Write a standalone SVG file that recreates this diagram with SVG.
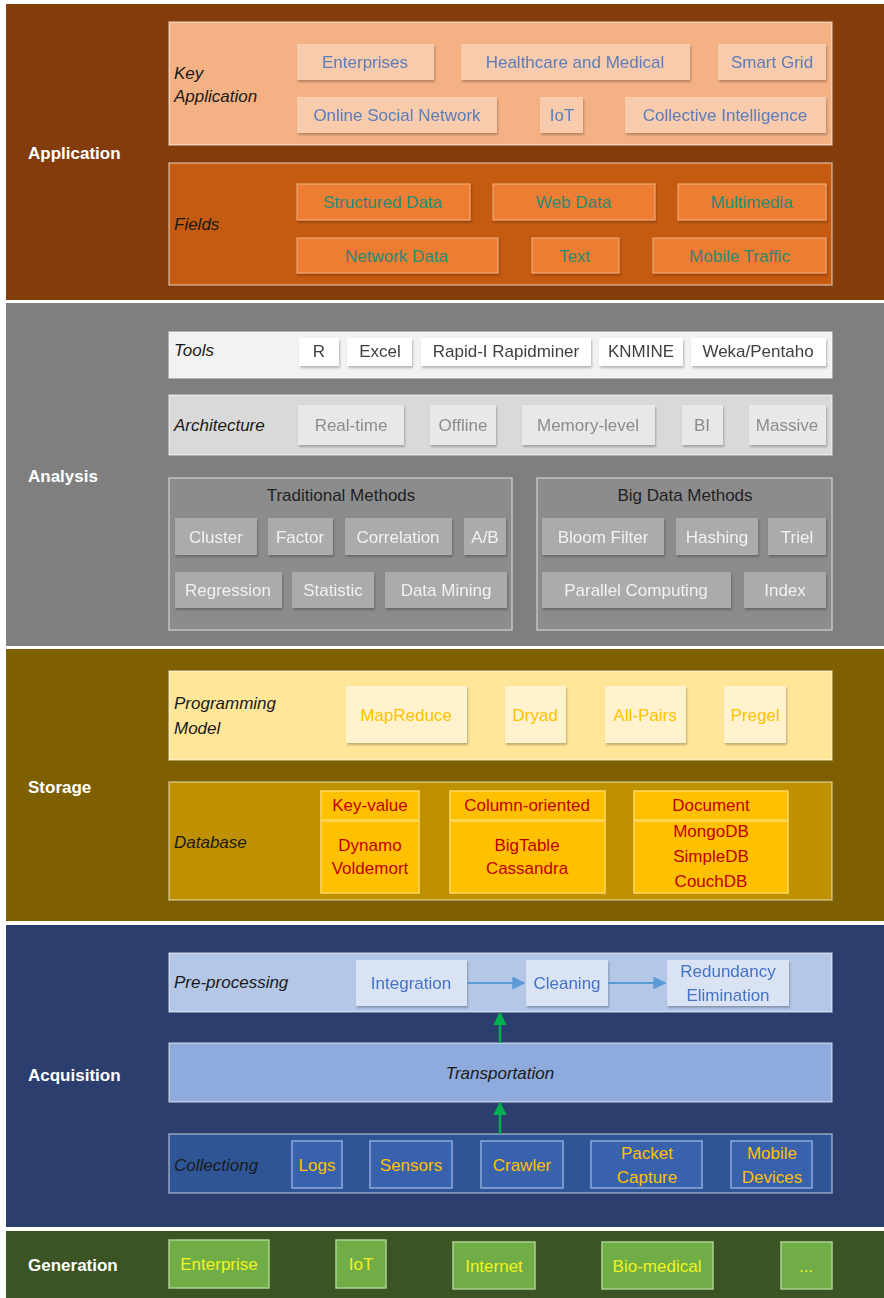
<svg xmlns="http://www.w3.org/2000/svg" width="884" height="1298" viewBox="0 0 884 1298">
<defs>
<filter id="sh" x="-10%" y="-10%" width="130%" height="140%">
<feDropShadow dx="1" dy="2" stdDeviation="1.2" flood-color="#000" flood-opacity="0.25"/>
</filter>
<marker id="ab" viewBox="0 0 10 10" refX="9" refY="5" markerWidth="6.5" markerHeight="6.5" orient="auto"><path d="M0,0 L10,5 L0,10 z" fill="#5B9BD5"/></marker>
<marker id="ag" viewBox="0 0 10 10" refX="9" refY="5" markerWidth="5.5" markerHeight="5.5" orient="auto"><path d="M0,0 L10,5 L0,10 z" fill="#00B050"/></marker>
</defs>
<style>
text{font-family:"Liberation Sans",Arial,sans-serif;font-size:17px;}
.lay{font-weight:bold;fill:#fff;font-size:17px;}
.lbl{font-style:italic;fill:#1a1a1a;font-size:17px;}
.c{text-anchor:middle;dominant-baseline:central;}
.box{stroke:rgba(255,255,255,0.5);stroke-width:1.5;}
.it{filter:url(#sh);}
.ka{fill:#F8CBAD;} .kat{fill:#5B7DB8;}
.fi{fill:#ED7D31;stroke:#F4B183;stroke-width:1;} .fit{fill:#218B74;}
.to{fill:#fff;} .tot{fill:#404040;}
.ar{fill:#E8E8E8;} .art{fill:#8C8C8C;}
.me{fill:#ABABAB;} .met{fill:#F2F2F2;}
.pm{fill:#FFF2CC;} .pmt{fill:#FFC000;}
.db{fill:#FFC000;stroke:#FFD966;stroke-width:1.5;} .dbt{fill:#C00000;}
.pp{fill:#DAE3F3;} .ppt{fill:#4472C4;}
.co{fill:#3862AC;stroke:#8FAADC;stroke-width:1.5;} .cot{fill:#FFC000;}
.ge{fill:#70AD47;stroke:#A9D18E;stroke-width:1.5;} .get{fill:#F2F21E;}
</style>

<g id="layer-application">
<rect x="6" y="4" width="878" height="296" fill="#843C0C"/>
<text class="lay" x="28" y="159">Application</text>
</g>
<g id="layer-analysis">
<rect x="6" y="303" width="878" height="343" fill="#7F7F7F"/>
<text class="lay" x="28" y="482">Analysis</text>
</g>
<g id="layer-storage">
<rect x="6" y="649" width="878" height="272" fill="#7F6000"/>
<text class="lay" x="28" y="793">Storage</text>
</g>
<g id="layer-acquisition">
<rect x="6" y="925" width="878" height="302" fill="#2C3E6E"/>
<text class="lay" x="28" y="1081">Acquisition</text>
</g>
<g id="layer-generation">
<rect x="6" y="1231" width="878" height="67" fill="#3A5424"/>
<text class="lay" x="28" y="1271">Generation</text>
</g>

<!-- Key Application -->
<g id="key-application">
<rect class="box" x="169" y="22" width="663" height="123" fill="#F4B183"/>
<text class="lbl" x="174" y="79">Key</text>
<text class="lbl" x="174" y="102">Application</text>
</g>
<g id="enterprises" class="it"><rect class="ka" x="297" y="44" width="137" height="36"/><text class="kat c" x="365" y="62">Enterprises</text></g>
<g id="healthcare" class="it"><rect class="ka" x="461" y="44" width="229" height="36"/><text class="kat c" x="575" y="62">Healthcare and Medical</text></g>
<g id="smartgrid" class="it"><rect class="ka" x="718" y="44" width="108" height="36"/><text class="kat c" x="772" y="62">Smart Grid</text></g>
<g id="osn" class="it"><rect class="ka" x="297" y="97" width="200" height="36"/><text class="kat c" x="397" y="115">Online Social Network</text></g>
<g id="iot-app" class="it"><rect class="ka" x="540" y="97" width="43" height="36"/><text class="kat c" x="562" y="115">IoT</text></g>
<g id="collective" class="it"><rect class="ka" x="625" y="97" width="201" height="36"/><text class="kat c" x="725" y="115">Collective Intelligence</text></g>

<!-- Fields -->
<g id="fields">
<rect class="box" x="169" y="163" width="663" height="122" fill="#C55A11"/>
<text class="lbl" x="174" y="230">Fields</text>
</g>
<g id="structured" class="it"><rect class="fi" x="297" y="184" width="173" height="36"/><text class="fit c" x="383" y="202">Structured Data</text></g>
<g id="webdata" class="it"><rect class="fi" x="493" y="184" width="162" height="36"/><text class="fit c" x="574" y="202">Web Data</text></g>
<g id="multimedia" class="it"><rect class="fi" x="678" y="184" width="148" height="36"/><text class="fit c" x="752" y="202">Multimedia</text></g>
<g id="networkdata" class="it"><rect class="fi" x="297" y="238" width="201" height="35"/><text class="fit c" x="397" y="256">Network Data</text></g>
<g id="text" class="it"><rect class="fi" x="532" y="238" width="87" height="35"/><text class="fit c" x="575" y="256">Text</text></g>
<g id="mobiletraffic" class="it"><rect class="fi" x="653" y="238" width="173" height="35"/><text class="fit c" x="740" y="256">Mobile Traffic</text></g>

<!-- Tools -->
<g id="tools">
<rect class="box" x="169" y="332" width="663" height="46" fill="#F2F2F2"/>
<text class="lbl" x="174" y="356">Tools</text>
</g>
<g id="r" class="it"><rect class="to" x="299" y="338" width="40" height="28"/><text class="tot c" x="319" y="351">R</text></g>
<g id="excel" class="it"><rect class="to" x="347" y="338" width="65" height="28"/><text class="tot c" x="380" y="351">Excel</text></g>
<g id="rapidminer" class="it"><rect class="to" x="421" y="338" width="170" height="28"/><text class="tot c" x="506" y="351">Rapid-I Rapidminer</text></g>
<g id="knmine" class="it"><rect class="to" x="599" y="338" width="84" height="28"/><text class="tot c" x="641" y="351">KNMINE</text></g>
<g id="weka" class="it"><rect class="to" x="691" y="338" width="135" height="28"/><text class="tot c" x="758" y="351">Weka/Pentaho</text></g>

<!-- Architecture -->
<g id="architecture">
<rect class="box" x="169" y="395" width="663" height="60" fill="#D9D9D9"/>
<text class="lbl" x="174" y="431">Architecture</text>
</g>
<g id="realtime" class="it"><rect class="ar" x="298" y="405" width="106" height="40"/><text class="art c" x="351" y="425">Real-time</text></g>
<g id="offline" class="it"><rect class="ar" x="430" y="405" width="66" height="40"/><text class="art c" x="463" y="425">Offline</text></g>
<g id="memory" class="it"><rect class="ar" x="522" y="405" width="133" height="40"/><text class="art c" x="588" y="425">Memory-level</text></g>
<g id="bi" class="it"><rect class="ar" x="682" y="405" width="41" height="40"/><text class="art c" x="702" y="425">BI</text></g>
<g id="massive" class="it"><rect class="ar" x="749" y="405" width="77" height="40"/><text class="art c" x="787" y="425">Massive</text></g>

<!-- Traditional Methods -->
<g id="traditional">
<rect class="box" x="169" y="478" width="343" height="152" fill="#8C8C8C"/>
<text class="c" x="341" y="495" fill="#1f1f1f">Traditional Methods</text>
</g>
<g id="cluster" class="it"><rect class="me" x="175" y="518" width="82" height="37"/><text class="met c" x="216" y="537">Cluster</text></g>
<g id="factor" class="it"><rect class="me" x="268" y="518" width="65" height="37"/><text class="met c" x="300" y="537">Factor</text></g>
<g id="correlation" class="it"><rect class="me" x="345" y="518" width="107" height="37"/><text class="met c" x="398" y="537">Correlation</text></g>
<g id="ab" class="it"><rect class="me" x="464" y="518" width="42" height="37"/><text class="met c" x="485" y="537">A/B</text></g>
<g id="regression" class="it"><rect class="me" x="175" y="572" width="107" height="36"/><text class="met c" x="228" y="590">Regression</text></g>
<g id="statistic" class="it"><rect class="me" x="292" y="572" width="82" height="36"/><text class="met c" x="333" y="590">Statistic</text></g>
<g id="datamining" class="it"><rect class="me" x="385" y="572" width="122" height="36"/><text class="met c" x="446" y="590">Data Mining</text></g>

<!-- Big Data Methods -->
<g id="bigdata">
<rect class="box" x="537" y="478" width="295" height="152" fill="#8C8C8C"/>
<text class="c" x="685" y="495" fill="#1f1f1f">Big Data Methods</text>
</g>
<g id="bloom" class="it"><rect class="me" x="542" y="518" width="122" height="37"/><text class="met c" x="603" y="537">Bloom Filter</text></g>
<g id="hashing" class="it"><rect class="me" x="676" y="518" width="82" height="37"/><text class="met c" x="717" y="537">Hashing</text></g>
<g id="triel" class="it"><rect class="me" x="768" y="518" width="58" height="37"/><text class="met c" x="797" y="537">Triel</text></g>
<g id="parallel" class="it"><rect class="me" x="542" y="572" width="189" height="36"/><text class="met c" x="636" y="590">Parallel Computing</text></g>
<g id="index" class="it"><rect class="me" x="744" y="572" width="82" height="36"/><text class="met c" x="785" y="590">Index</text></g>

<!-- Programming Model -->
<g id="progmodel">
<rect class="box" x="169" y="671" width="663" height="89" fill="#FFE699"/>
<text class="lbl" x="174" y="709">Programming</text>
<text class="lbl" x="174" y="734">Model</text>
</g>
<g id="mapreduce" class="it"><rect class="pm" x="346" y="686" width="121" height="57"/><text class="pmt c" x="406" y="715">MapReduce</text></g>
<g id="dryad" class="it"><rect class="pm" x="505" y="686" width="61" height="57"/><text class="pmt c" x="535" y="715">Dryad</text></g>
<g id="allpairs" class="it"><rect class="pm" x="605" y="686" width="81" height="57"/><text class="pmt c" x="645" y="715">All-Pairs</text></g>
<g id="pregel" class="it"><rect class="pm" x="724" y="686" width="62" height="57"/><text class="pmt c" x="755" y="715">Pregel</text></g>

<!-- Database -->
<g id="database">
<rect class="box" x="169" y="782" width="663" height="118" fill="#BF9000"/>
<text class="lbl" x="174" y="848">Database</text>
</g>
<g id="keyvalue">
<rect class="db" x="321" y="791" width="98" height="29"/>
<rect class="db" x="321" y="821" width="98" height="72"/>
<text class="dbt c" x="370" y="805">Key-value</text>
<text class="dbt c" x="370" y="845">Dynamo</text>
<text class="dbt c" x="370" y="868">Voldemort</text>
</g>
<g id="columnoriented">
<rect class="db" x="450" y="791" width="155" height="29"/>
<rect class="db" x="450" y="821" width="155" height="72"/>
<text class="dbt c" x="527" y="805">Column-oriented</text>
<text class="dbt c" x="527" y="845">BigTable</text>
<text class="dbt c" x="527" y="868">Cassandra</text>
</g>
<g id="document">
<rect class="db" x="634" y="791" width="154" height="29"/>
<rect class="db" x="634" y="821" width="154" height="72"/>
<text class="dbt c" x="711" y="805">Document</text>
<text class="dbt c" x="711" y="831">MongoDB</text>
<text class="dbt c" x="711" y="856">SimpleDB</text>
<text class="dbt c" x="711" y="881">CouchDB</text>
</g>

<!-- Pre-processing -->
<g id="preprocessing">
<rect class="box" x="169" y="953" width="663" height="59" fill="#B4C7E7"/>
<text class="lbl" x="174" y="988">Pre-processing</text>
</g>
<g id="integration" class="it"><rect class="pp" x="356" y="960" width="111" height="46"/><text class="ppt c" x="411" y="983">Integration</text></g>
<g id="cleaning" class="it"><rect class="pp" x="526" y="960" width="82" height="46"/><text class="ppt c" x="567" y="983">Cleaning</text></g>
<g id="redundancy" class="it"><rect class="pp" x="667" y="960" width="122" height="46"/><text class="ppt c" x="728" y="971">Redundancy</text><text class="ppt c" x="728" y="995">Elimination</text></g>

<!-- Transportation -->
<g id="transportation">
<rect class="box" x="169" y="1043" width="663" height="59" fill="#8FAADC"/>
<text class="lbl c" x="500" y="1073">Transportation</text>
</g>

<!-- Collecting -->
<g id="collecting">
<rect class="box" x="169" y="1134" width="663" height="59" fill="#2F5597"/>
<text class="lbl" x="174" y="1171">Collectiong</text>
</g>
<g id="logs"><rect class="co" x="292" y="1141" width="50" height="47"/><text class="cot c" x="317" y="1165">Logs</text></g>
<g id="sensors"><rect class="co" x="370" y="1141" width="82" height="47"/><text class="cot c" x="411" y="1165">Sensors</text></g>
<g id="crawler"><rect class="co" x="481" y="1141" width="82" height="47"/><text class="cot c" x="522" y="1165">Crawler</text></g>
<g id="packet"><rect class="co" x="591" y="1141" width="111" height="47"/><text class="cot c" x="647" y="1153">Packet</text><text class="cot c" x="647" y="1177">Capture</text></g>
<g id="mobile"><rect class="co" x="731" y="1141" width="81" height="47"/><text class="cot c" x="772" y="1153">Mobile</text><text class="cot c" x="772" y="1177">Devices</text></g>

<!-- Generation items -->
<g id="gen-enterprise"><rect class="ge" x="169" y="1240" width="100" height="48"/><text class="get c" x="219" y="1264">Enterprise</text></g>
<g id="gen-iot"><rect class="ge" x="336" y="1240" width="50" height="48"/><text class="get c" x="361" y="1264">IoT</text></g>
<g id="gen-internet"><rect class="ge" x="453" y="1242" width="82" height="47"/><text class="get c" x="494" y="1266">Internet</text></g>
<g id="gen-biomedical"><rect class="ge" x="602" y="1242" width="111" height="47"/><text class="get c" x="657" y="1266">Bio-medical</text></g>
<g id="gen-more"><rect class="ge" x="781" y="1242" width="51" height="47"/><text class="get c" x="806" y="1266">...</text></g>

<!-- Connectors -->
<g id="connectors">
<line x1="467" y1="983" x2="524" y2="983" stroke="#5B9BD5" stroke-width="2" marker-end="url(#ab)"/>
<line x1="608" y1="983" x2="665" y2="983" stroke="#5B9BD5" stroke-width="2" marker-end="url(#ab)"/>
<line x1="500" y1="1043" x2="500" y2="1013" stroke="#00B050" stroke-width="2.5" marker-end="url(#ag)"/>
<line x1="500" y1="1134" x2="500" y2="1103" stroke="#00B050" stroke-width="2.5" marker-end="url(#ag)"/>
</g>
</svg>
